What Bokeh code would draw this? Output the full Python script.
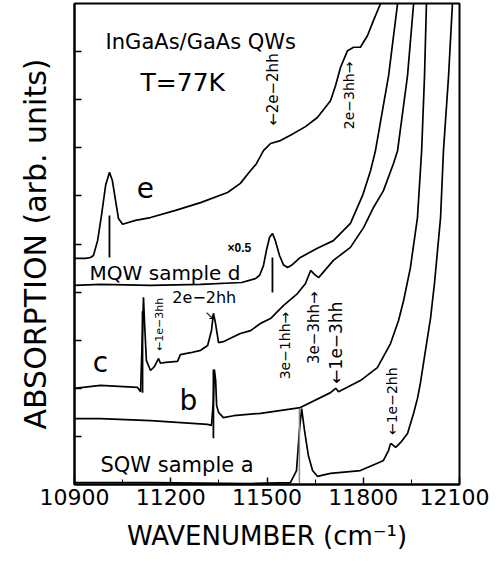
import math
from bokeh.plotting import figure
from bokeh.models import FixedTicker
from bokeh.core.properties import value
from bokeh.embed import file_html
from bokeh.resources import INLINE

# ---- spectra: wavenumber (cm^-1) and absorption (arb. units, offset) ----
a_wn = [10900, 11137, 11449, 11573, 11592, 11601, 11608, 11617, 11629, 11642, 11657, 11698,
        11791, 11844, 11863, 11879, 11885, 11891, 11901, 11916, 11938, 11957, 11969, 11978,
        11994, 12010, 12016, 12022, 12041, 12050, 12066, 12078]
a_abs = [0.04, 0.04, 0.02, 0.04, 0.29, 1.12, 1.58, 1.12, 0.60, 0.29, 0.17, 0.23,
         0.29, 0.44, 0.50, 0.71, 0.85, 0.83, 0.77, 0.87, 1.06, 1.48, 1.79, 2.10,
         2.79, 3.47, 3.83, 4.18, 5.55, 6.94, 8.50, 10.0]

b_wn = [10900, 10981, 11137, 11315, 11327, 11333, 11336, 11340, 11343, 11349, 11364, 11396,
        11480, 11604, 11698, 11714, 11723, 11729, 11791, 11844, 11885, 11910, 11926, 11947,
        11969, 11982, 11991, 11997]
b_abs = [1.37, 1.37, 1.33, 1.25, 1.23, 1.75, 2.39, 2.16, 1.64, 1.50, 1.39, 1.43,
         1.48, 1.60, 1.91, 2.00, 1.93, 1.95, 2.16, 2.43, 2.93, 3.41, 3.83, 4.51,
         5.55, 6.94, 8.50, 10.0]

c_wn = [10900, 10981, 11096, 11106, 11112, 11115, 11118, 11124, 11137, 11149, 11162, 11168,
        11184, 11221, 11230, 11262, 11293, 11315, 11327, 11333, 11339, 11349, 11364, 11386,
        11417, 11449, 11480, 11511, 11551, 11595, 11620, 11636, 11648, 11661, 11707, 11760,
        11801, 11832, 11863, 11894, 11907, 11938, 11957]
c_abs = [2.00, 2.06, 2.02, 1.93, 3.20, 3.89, 3.41, 2.58, 2.37, 2.45, 2.62, 2.52,
         2.54, 2.56, 2.70, 2.74, 2.79, 2.89, 3.20, 3.56, 3.37, 2.95, 2.97, 3.04,
         3.14, 3.20, 3.35, 3.45, 3.72, 3.97, 4.18, 4.45, 4.37, 4.30, 4.66, 4.93,
         5.34, 5.76, 6.11, 6.67, 6.94, 8.50, 10.0]

d_wn = [10900, 10981, 11137, 11293, 11421, 11464, 11477, 11489, 11498, 11508, 11517, 11526,
        11539, 11551, 11564, 11579, 11604, 11657, 11707, 11760, 11798, 11823, 11838, 11879,
        11907]
d_abs = [4.14, 4.16, 4.14, 4.16, 4.20, 4.28, 4.35, 4.55, 4.86, 5.14, 5.22, 5.07,
         4.76, 4.57, 4.51, 4.57, 4.72, 4.91, 5.07, 5.43, 6.01, 6.53, 6.94, 8.50,
         10.0]

e_wn = [10900, 10934, 10950, 10959, 10972, 10984, 10997, 11009, 11018, 11028, 11037, 11050,
        11090, 11137, 11215, 11293, 11377, 11417, 11442, 11467, 11489, 11511, 11542, 11573,
        11620, 11657, 11698, 11714, 11729, 11751, 11770, 11791, 11813, 11832, 11854]
e_abs = [4.70, 4.70, 4.72, 4.76, 5.07, 5.59, 6.22, 6.49, 6.32, 5.90, 5.53, 5.41,
         5.49, 5.55, 5.70, 5.86, 6.07, 6.26, 6.47, 6.67, 6.94, 7.09, 7.15, 7.26,
         7.44, 7.63, 7.98, 8.30, 8.67, 9.02, 9.09, 9.09, 9.33, 9.65, 10.0]

# ---- peak marker bars (wavenumber, bottom, top) ----
bar_wn = [11009, 11517, 11112, 11333]
bar_lo = [4.72, 3.99, 1.91, 0.96]
bar_hi = [5.59, 4.72, 3.60, 2.39]
sqw_bar_wn = [11601]
sqw_bar_lo = [0.0]
sqw_bar_hi = [1.58]

# ---- axis ticks ----
x_major = [10900, 11200, 11500, 11800, 12100]
x_minor = [11050, 11350, 11650, 11950]
y_major = [1, 2, 3, 4, 5, 6, 7, 8, 9]

p = figure(width=489, height=560, x_range=(10900, 12100), y_range=(0, 10),
           output_backend="svg", toolbar_location=None,
           min_border_left=74, min_border_right=30, min_border_top=3, min_border_bottom=76)
p.grid.visible = False
p.background_fill_color = "white"
p.border_fill_color = "white"
p.outline_line_color = "black"
p.outline_line_width = 2

xa = p.xaxis[0]
xa.ticker = FixedTicker(ticks=x_major, minor_ticks=x_minor)
xa.major_tick_in = 7
xa.major_tick_out = 0
xa.minor_tick_in = 5
xa.minor_tick_out = 0
xa.axis_line_width = 2
xa.major_tick_line_width = 1.5
xa.major_label_text_font = "DejaVu Sans"
xa.major_label_text_font_size = "22px"
xa.major_label_text_color = "black"
xa.major_label_standoff = 4
xa.axis_label = "WAVENUMBER (cm\u207b\u00b9)"
xa.axis_label_text_font = "DejaVu Sans"
xa.axis_label_text_font_size = "26px"
xa.axis_label_text_font_style = "normal"
xa.axis_label_text_color = "black"
xa.axis_label_standoff = 13

ya = p.yaxis[0]
ya.ticker = FixedTicker(ticks=y_major, minor_ticks=[])
ya.major_tick_in = 7
ya.major_tick_out = 0
ya.axis_line_width = 2
ya.major_tick_line_width = 1.5
ya.major_label_text_font_size = "0px"
ya.major_label_standoff = 0
ya.axis_label = "ABSORPTION (arb. units)"
ya.axis_label_text_font = "DejaVu Sans"
ya.axis_label_text_font_size = "30px"
ya.axis_label_text_font_style = "normal"
ya.axis_label_text_color = "black"
ya.axis_label_standoff = 22

for wn, ab in [(a_wn, a_abs), (b_wn, b_abs), (c_wn, c_abs), (d_wn, d_abs), (e_wn, e_abs)]:
    p.line(wn, ab, line_color="black", line_width=1.7)

p.segment(x0=bar_wn, y0=bar_lo, x1=bar_wn, y1=bar_hi, line_color="black", line_width=1.8)
p.segment(x0=sqw_bar_wn, y0=sqw_bar_lo, x1=sqw_bar_wn, y1=sqw_bar_hi, line_color="#888888", line_width=1.5)

# ---- annotations ----
def txt(x, y, s, size, font="DejaVu Sans", angle=0.0, align="left", style="normal"):
    p.text(x=[x], y=[y], text=[s], angle=angle, text_font=value(font), text_font_size=size,
           text_align=align, text_baseline="middle", text_color="black", text_font_style=style)

txt(10997, 9.19, "InGaAs/GaAs QWs", "21px")
txt(11106, 8.35, "T=77K", "25px")
txt(11121, 6.17, "e", "28px", align="center")
txt(11414, 4.91, "\u00d70.5", "12px", font="Liberation Sans", align="center", style="bold")
txt(10947, 4.39, "MQW sample d", "20px")
txt(10981, 2.54, "c", "28px", align="center")
txt(11205, 3.89, "2e\u22122hh", "16px")
txt(11322, 3.53, "\u2198", "12px", align="center")
txt(11255, 1.75, "b", "28px", align="center")
txt(10981, 0.40, "SQW sample a", "21px")

up = math.pi / 2
txt(11165, 3.33, "\u21901e\u22123hh", "11px", angle=up, align="center")
txt(11520, 8.21, "\u21902e\u22122hh", "15px", angle=up, align="center")
txt(11757, 8.09, "2e\u22123hh\u2192", "14px", angle=up, align="center")
txt(11555, 2.89, "3e\u22121hh\u2192", "14px", angle=up, align="center")
txt(11645, 3.26, "3e\u22123hh\u2192", "15px", angle=up, align="center")
txt(11714, 2.95, "\u21901e\u22123hh", "17px", angle=up, align="center")
txt(11891, 1.73, "\u21901e\u22122hh", "14px", angle=up, align="center")

open("out.html", "w").write(file_html(p, INLINE))
